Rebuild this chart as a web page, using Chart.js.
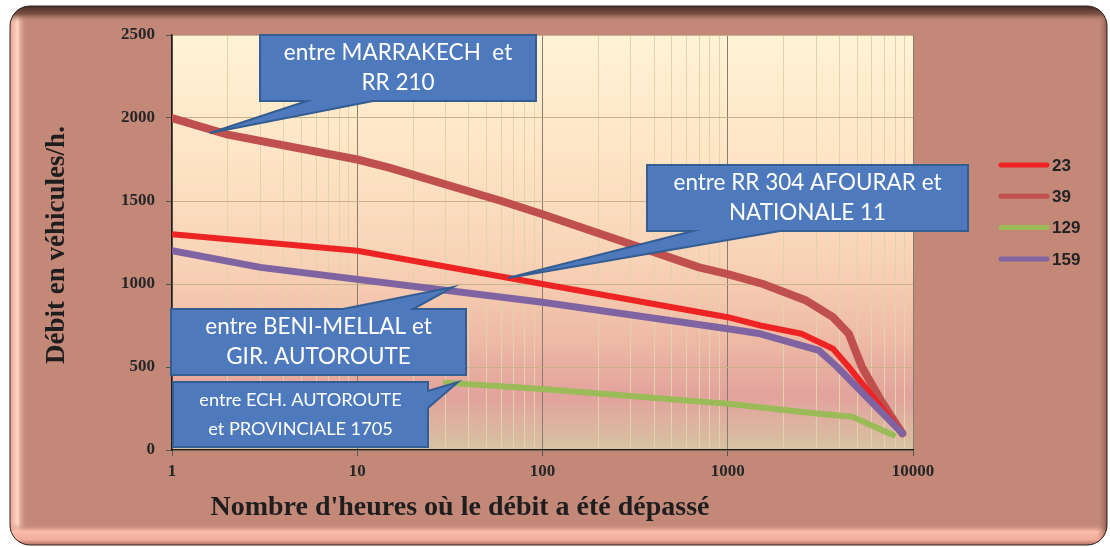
<!DOCTYPE html>
<html>
<head>
<meta charset="utf-8">
<script src="https://cdn.jsdelivr.net/npm/chart.js@4.4.1/dist/chart.umd.min.js"></script>
<style>
  html, body { margin: 0; padding: 0; background: #fff; }
  canvas { display: block; }
</style>
</head>
<body>
<canvas id="chart" width="1110" height="547"></canvas>
<script>
// Flow (vehicles/h) against number of hours in the year it was exceeded
const hours23 = [1, 10, 100, 1000, 1500, 2500, 3700, 4500, 8760];
const flow23  = [1300, 1200, 1000, 800, 750, 700, 610, 500, 100];

const hours39 = [1, 2, 10, 15, 60, 100, 700, 1000, 1550, 2650, 3700, 4500, 5300, 6700, 8760];
const flow39  = [2000, 1900, 1750, 1700, 1500, 1420, 1100, 1060, 1000, 900, 800, 700, 500, 300, 100];

const hours129 = [30, 100, 1000, 3000, 4700, 7800];
const flow129  = [405, 367, 278, 220, 200, 90];

const hours159 = [1, 3, 100, 1000, 1500, 3100, 3900, 8760];
const flow159  = [1200, 1100, 890, 730, 700, 600, 500, 100];

const hourTicks = [1, 10, 100, 1000, 10000];
const flowTicks = [0, 500, 1000, 1500, 2000, 2500];

const SERIF = "'Liberation Serif', 'Times New Roman', serif";
const CALLOUT_FONT = "Lato, 'Open Sans', sans-serif";

function pairs(xs, ys) {
  return xs.map((x, i) => ({ x: x, y: ys[i] }));
}

// speech-bubble labels; the tail tip sits on the curve in data units
const callouts = [
  { lines: ['entre MARRAKECH  et', 'RR 210'], box: [260, 35, 276, 66], size: 22.5,
    tail: { edge: 'bottom', a: 307, b: 373 }, tip: { x: 1.6, y: 1910 } },
  { lines: ['entre RR 304 AFOURAR et', 'NATIONALE 11'], box: [647, 165, 321, 66], size: 22.5,
    tail: { edge: 'bottom', a: 693, b: 780 }, tip: { x: 65, y: 1036 } },
  { lines: ['entre BENI-MELLAL et', 'GIR. AUTOROUTE'], box: [171, 309, 295, 66], size: 22.5,
    tail: { edge: 'top', a: 343, b: 413 }, tip: { x: 33, y: 982 } },
  { lines: ['entre ECH. AUTOROUTE', 'et PROVINCIALE 1705'], box: [173, 382, 255, 65], size: 18.2,
    tail: { edge: 'right', a: 391, b: 408 }, tip: { x: 35, y: 410 } }
];

function roundRect(ctx, x, y, w, h, r) {
  ctx.beginPath();
  ctx.moveTo(x + r, y);
  ctx.arcTo(x + w, y, x + w, y + h, r);
  ctx.arcTo(x + w, y + h, x, y + h, r);
  ctx.arcTo(x, y + h, x, y, r);
  ctx.arcTo(x, y, x + w, y, r);
  ctx.closePath();
}

const backdrop = {
  id: 'backdrop',
  beforeDraw(chart) {
    const ctx = chart.ctx;
    const area = chart.chartArea;
    ctx.save();
    ctx.fillStyle = '#ffffff';
    ctx.fillRect(0, 0, chart.width, chart.height);

    // bevelled panel
    const px = 10, py = 6, pw = 1097, ph = 539;
    roundRect(ctx, px, py, pw, ph, 20);
    ctx.fillStyle = '#c48878';
    ctx.fill();
    ctx.save();
    ctx.clip();
    let g = ctx.createLinearGradient(px, 0, px + 17, 0);
    g.addColorStop(0, '#e8a494');
    g.addColorStop(0.45, '#ffd6c6');
    g.addColorStop(1, 'rgba(196,136,120,0)');
    ctx.fillStyle = g;
    ctx.fillRect(px, py, 17, ph);
    g = ctx.createLinearGradient(0, 524, 0, py + ph);
    g.addColorStop(0, 'rgba(196,136,120,0)');
    g.addColorStop(0.35, '#fbbcaa');
    g.addColorStop(0.75, '#f2ac9c');
    g.addColorStop(1, '#b07060');
    ctx.fillStyle = g;
    ctx.fillRect(px, 524, pw, py + ph - 524);
    g = ctx.createLinearGradient(px + pw - 10, 0, px + pw, 0);
    g.addColorStop(0, 'rgba(196,136,120,0)');
    g.addColorStop(1, '#8c5a4c');
    ctx.fillStyle = g;
    ctx.fillRect(px + pw - 10, py, 10, ph);
    g = ctx.createLinearGradient(0, py, 0, py + 16);
    g.addColorStop(0, '#4a2c24');
    g.addColorStop(0.5, '#7a5044');
    g.addColorStop(1, 'rgba(196,136,120,0)');
    ctx.fillStyle = g;
    ctx.fillRect(px, py, pw, 16);
    ctx.restore();
    roundRect(ctx, px, py, pw, ph, 20);
    ctx.strokeStyle = '#2a2220';
    ctx.lineWidth = 1;
    ctx.stroke();

    // plot area wash
    g = ctx.createLinearGradient(0, area.top, 0, area.bottom);
    g.addColorStop(0, '#fff3d6');
    g.addColorStop(0.3, '#fde4c4');
    g.addColorStop(0.55, '#f8d2b6');
    g.addColorStop(0.72, '#efbca6');
    g.addColorStop(0.87, '#e2a29c');
    g.addColorStop(0.95, '#dcb6a0');
    g.addColorStop(1, '#d6c4a2');
    ctx.fillStyle = g;
    ctx.fillRect(area.left, area.top, area.right - area.left, area.bottom - area.top);
    ctx.restore();
  }
};

function drawCallout(ctx, c, tip) {
  const [x, y, w, h] = c.box;
  const t = c.tail;
  ctx.beginPath();
  ctx.moveTo(x, y);
  if (t.edge === 'top') {
    ctx.lineTo(t.a, y); ctx.lineTo(tip.x, tip.y); ctx.lineTo(t.b, y);
  }
  ctx.lineTo(x + w, y);
  if (t.edge === 'right') {
    ctx.lineTo(x + w, t.a); ctx.lineTo(tip.x, tip.y); ctx.lineTo(x + w, t.b);
  }
  ctx.lineTo(x + w, y + h);
  if (t.edge === 'bottom') {
    ctx.lineTo(t.b, y + h); ctx.lineTo(tip.x, tip.y); ctx.lineTo(t.a, y + h);
  }
  ctx.lineTo(x, y + h);
  ctx.closePath();
  ctx.fillStyle = '#4e7abd';
  ctx.fill();
  ctx.strokeStyle = '#345d92';
  ctx.lineWidth = 2;
  ctx.lineJoin = 'miter';
  ctx.stroke();

  ctx.fillStyle = '#ffffff';
  ctx.font = c.size + 'px ' + CALLOUT_FONT;
  ctx.textAlign = 'center';
  ctx.textBaseline = 'middle';
  const step = h / (c.lines.length + 0.1);
  c.lines.forEach((line, i) => {
    ctx.fillText(line, x + w / 2, y + h / 2 + (i - (c.lines.length - 1) / 2) * step * 0.95);
  });
}

const overlay = {
  id: 'overlay',
  afterDraw(chart) {
    const ctx = chart.ctx;
    const xs = chart.scales.x, ys = chart.scales.y;
    ctx.save();

    callouts.forEach(c => {
      drawCallout(ctx, c, { x: xs.getPixelForValue(c.tip.x), y: ys.getPixelForValue(c.tip.y) });
    });

    // legend
    chart.data.datasets.forEach((ds, i) => {
      const ly = 165 + i * 31.3;
      ctx.beginPath();
      ctx.moveTo(1001, ly);
      ctx.lineTo(1047, ly);
      ctx.strokeStyle = ds.borderColor;
      ctx.lineWidth = 5;
      ctx.lineCap = 'round';
      ctx.stroke();
      ctx.fillStyle = '#222222';
      ctx.font = "bold 17px 'Liberation Sans', Arial, sans-serif";
      ctx.textAlign = 'left';
      ctx.textBaseline = 'middle';
      ctx.fillText(ds.label, 1052, ly + 1);
    });

    // axis titles
    ctx.fillStyle = '#1e1e1e';
    ctx.textAlign = 'center';
    ctx.textBaseline = 'middle';
    ctx.font = 'bold 28px ' + SERIF;
    ctx.fillText("Nombre d'heures où le débit a été dépassé", 460, 508);
    ctx.translate(57, 245);
    ctx.rotate(-Math.PI / 2);
    ctx.font = 'bold 27px ' + SERIF;
    ctx.fillText('Débit en véhicules/h.', 0, 0);
    ctx.restore();
  }
};

const tickFont = { family: SERIF, size: 17, weight: 'bold' };

new Chart(document.getElementById('chart'), {
  type: 'line',
  data: {
    datasets: [
      { label: '23', data: pairs(hours23, flow23), borderColor: '#ee2424', borderWidth: 6, order: 2 },
      { label: '39', data: pairs(hours39, flow39), borderColor: '#c0504d', borderWidth: 8, order: 3 },
      { label: '129', data: pairs(hours129, flow129), borderColor: '#9bbb59', borderWidth: 6, order: 1 },
      { label: '159', data: pairs(hours159, flow159), borderColor: '#8064a2', borderWidth: 7, order: 0 }
    ]
  },
  options: {
    responsive: false,
    animation: false,
    layout: { padding: { top: 35, right: 197, left: 0, bottom: 0 } },
    elements: {
      point: { radius: 0 },
      line: { tension: 0, borderCapStyle: 'round', borderJoinStyle: 'round', fill: false }
    },
    plugins: { legend: { display: false }, tooltip: { enabled: false } },
    scales: {
      x: {
        type: 'logarithmic',
        min: 1,
        max: 10000,
        afterFit(scale) { scale.height = 97; },
        afterBuildTicks(scale) {
          const ticks = [];
          for (let d = 1; d < 10000; d *= 10) {
            for (let m = 1; m < 10; m++) ticks.push({ value: d * m });
          }
          ticks.push({ value: 10000 });
          scale.ticks = ticks;
        },
        ticks: {
          autoSkip: false,
          maxRotation: 0,
          padding: 5,
          font: tickFont,
          color: '#262626',
          callback: (v) => hourTicks.includes(v) ? String(v) : ''
        },
        grid: {
          color: (c) => c.tick && hourTicks.includes(c.tick.value) ? '#8a7b70' : '#e2d2ae',
          lineWidth: 1,
          tickLength: 6,
          tickColor: (c) => c.tick && hourTicks.includes(c.tick.value) ? '#555555' : 'rgba(0,0,0,0)'
        },
        border: { color: '#1e1e1e', width: 1.5 }
      },
      y: {
        min: 0,
        max: 2500,
        afterFit(scale) { scale.width = 172; },
        afterBuildTicks(scale) {
          scale.ticks = flowTicks.map(v => ({ value: v }));
        },
        ticks: { padding: 11, font: tickFont, color: '#262626', callback: (v) => String(v) },
        grid: { color: '#c9b189', lineWidth: 1, tickLength: 6, tickColor: '#555555' },
        border: { color: '#1e1e1e', width: 1.5 }
      }
    }
  },
  plugins: [backdrop, overlay]
});
</script>
</body>
</html>
